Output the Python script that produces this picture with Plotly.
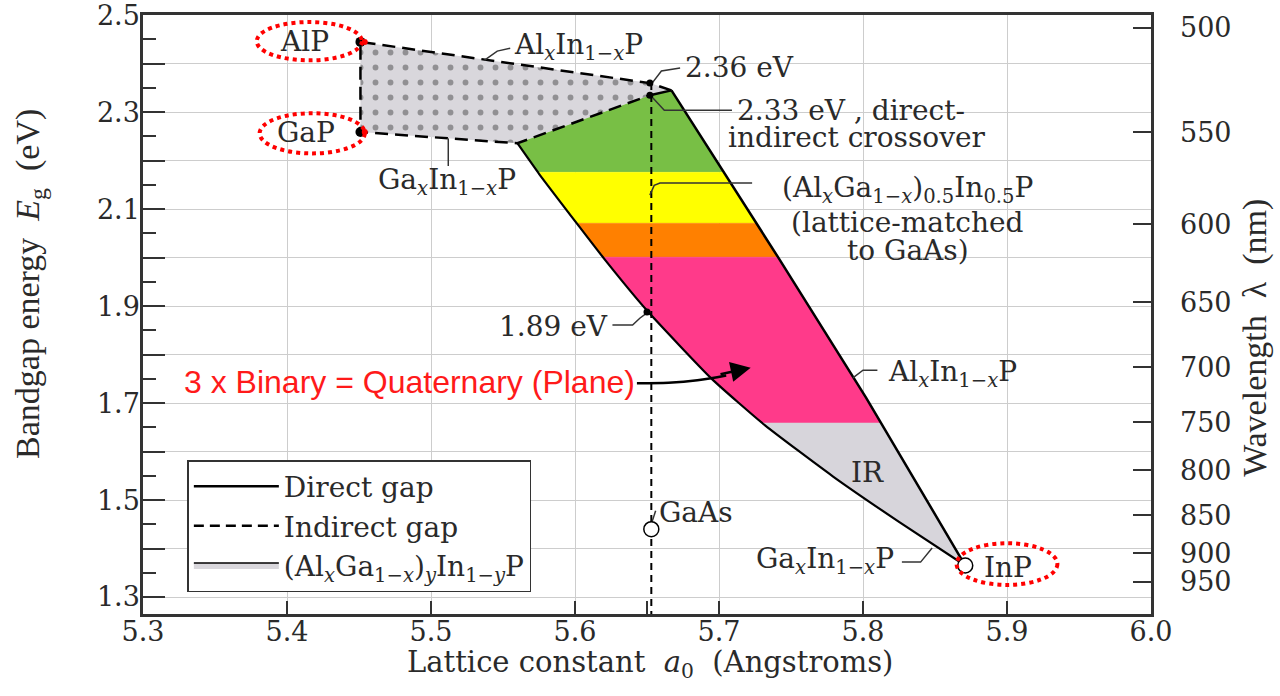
import numpy as np
import plotly.graph_objects as go

# ---------------- data (lattice constant in Angstrom, bandgap in eV) ----------------
ALP = (5.451, 2.445)
GAP = (5.451, 2.259)
INP = (5.871, 1.365)
GAAS = (5.653, 1.440)
E_236 = (5.652, 2.360)
E_233 = (5.652, 2.335)
E_189 = (5.650, 1.888)

# AlInP indirect (dashed, from AlP to the kink)
ALINP_IND_X = [5.451, 5.652, 5.667]
ALINP_IND_Y = [2.445, 2.360, 2.345]
# AlInP direct (solid, kink -> InP)
ALINP_DIR_X = [5.667, 5.741, 5.802, 5.871]
ALINP_DIR_Y = [2.345, 2.001, 1.712, 1.365]
# GaInP direct (solid, crossover -> InP)
GAINP_DIR_X = [5.560, 5.575, 5.603, 5.621, 5.650, 5.695, 5.732, 5.779, 5.825, 5.871]
GAINP_DIR_Y = [2.236, 2.173, 2.064, 1.995, 1.891, 1.750, 1.654, 1.549, 1.455, 1.365]
# GaInP indirect (dashed, GaP -> crossover)
GAINP_IND_X = [5.451, 5.560]
GAINP_IND_Y = [2.259, 2.236]
# quaternary direct/indirect boundary (crossover -> 2.33 eV -> kink)
QUAT_EDGE_X = [5.560, 5.652, 5.667]
QUAT_EDGE_Y = [2.236, 2.335, 2.345]

# colour bands (lower edges, eV) and colours
BAND_LOWER = [2.176, 2.071, 2.001, 1.659, 1.365]
BAND_COLORS = ["#78bf45", "#ffff00", "#ff8000", "#ff3a8a", "#d7d5db"]

# right axis: wavelength tick labels and their positions on the eV scale
WL_LABELS = [500, 550, 600, 650, 700, 750, 800, 850, 900, 950]
WL_POS_EV = [2.474, 2.259, 2.069, 1.908, 1.774, 1.660, 1.561, 1.469, 1.390, 1.331]

X_TICKS = [5.3, 5.4, 5.5, 5.6, 5.7, 5.8, 5.9, 6.0]
Y_TICKS = [1.3, 1.4, 1.5, 1.6, 1.7, 1.8, 1.9, 2.0, 2.1, 2.2, 2.3, 2.4, 2.5]
Y_MINOR = [1.35, 1.45, 1.55, 1.65, 1.75, 1.85, 1.95, 2.05, 2.15, 2.25, 2.35, 2.45]
X_RANGE = [5.3, 6.0]
Y_RANGE = [1.265, 2.5005]

SERIF = "DejaVu Serif"
FS = 28
TFS = 27
TXT = "#2a2a2a"

lx, ly = np.array(GAINP_DIR_X), np.array(GAINP_DIR_Y)
rx, ry = np.array(ALINP_DIR_X), np.array(ALINP_DIR_Y)


def at(xs, ys, y):
    return float(np.interp(y, ys[::-1], xs[::-1]))


def band_polygon(lo, hi):
    px, py = [at(lx, ly, lo)], [lo]
    h = ly.max() if hi is None else hi
    for x, y in zip(lx[::-1], ly[::-1]):
        if lo < y < h:
            px.append(x); py.append(y)
    px.append(at(lx, ly, h)); py.append(h)
    if hi is None:
        for x, y in zip(QUAT_EDGE_X[1:], QUAT_EDGE_Y[1:]):
            px.append(x); py.append(y)
        rtop = ry.max()
    else:
        px.append(at(rx, ry, hi)); py.append(hi)
        rtop = hi
    for x, y in zip(rx, ry):
        if lo < y < rtop:
            px.append(x); py.append(y)
    px.append(at(rx, ry, lo)); py.append(lo)
    return px, py


fig = go.Figure()
NOLEG = dict(showlegend=False, hoverinfo="skip")

# colour bands
uppers = [None] + BAND_LOWER[:-1]
for lo, hi, col in zip(BAND_LOWER, uppers, BAND_COLORS):
    bx, by = band_polygon(lo, hi)
    fig.add_trace(go.Scatter(x=bx, y=by, fill="toself", fillcolor=col, mode="lines",
                             line=dict(width=0.5, color=col), **NOLEG))

# indirect (dotted grey) region
gx = ALINP_IND_X + QUAT_EDGE_X[::-1][1:] + GAINP_IND_X[::-1]
gy = ALINP_IND_Y + QUAT_EDGE_Y[::-1][1:] + GAINP_IND_Y[::-1]
fig.add_trace(go.Scatter(x=gx, y=gy, fill="toself", fillcolor="#d9d7dc", mode="lines",
                         line=dict(width=0, color="#d9d7dc"),
                         fillpattern=dict(shape=".", bgcolor="#d9d7dc", fgcolor="#4a4a4a",
                                          size=15, solidity=0.12),
                         **NOLEG))

# vertical lattice-matched line (GaAs)
fig.add_trace(go.Scatter(x=[GAAS[0], GAAS[0]], y=[E_236[1], Y_RANGE[0]], mode="lines",
                         line=dict(color="black", width=2, dash="7px,5px"), **NOLEG))

# dashed indirect boundaries
dash_x = ALINP_IND_X[::-1] + [GAP[0]] + GAINP_IND_X[1:] + QUAT_EDGE_X[1:2]
dash_y = ALINP_IND_Y[::-1] + [GAP[1]] + GAINP_IND_Y[1:] + QUAT_EDGE_Y[1:2]
fig.add_trace(go.Scatter(x=dash_x, y=dash_y, mode="lines",
                         line=dict(color="black", width=2.5, dash="13px,7px"), **NOLEG))

# solid direct boundaries
fig.add_trace(go.Scatter(x=ALINP_DIR_X, y=ALINP_DIR_Y, mode="lines",
                         line=dict(color="black", width=2.5), **NOLEG))
fig.add_trace(go.Scatter(x=GAINP_DIR_X, y=GAINP_DIR_Y, mode="lines",
                         line=dict(color="black", width=2.2, shape="spline", smoothing=0.5), **NOLEG))
fig.add_trace(go.Scatter(x=QUAT_EDGE_X[1:], y=QUAT_EDGE_Y[1:], mode="lines",
                         line=dict(color="black", width=2.5), **NOLEG))

# leader lines (annotation geometry)
LEADERS = [
    ([5.537, 5.546, 5.555], [2.407, 2.426, 2.432]),
    ([5.653, 5.660, 5.673], [2.358, 2.385, 2.391]),
    ([5.653, 5.662, 5.709], [2.333, 2.304, 2.304]),
    ([5.652, 5.655, 5.659, 5.723], [2.129, 2.149, 2.154, 2.154]),
    ([5.626, 5.640, 5.645, 5.650], [1.861, 1.861, 1.875, 1.886]),
    ([5.512, 5.512], [2.246, 2.189]),
    ([5.793, 5.800, 5.810], [1.752, 1.768, 1.768]),
    ([5.827, 5.840, 5.848], [1.372, 1.372, 1.401]),
    ([5.6535, 5.656], [1.455, 1.478]),
]
for xs, ys in LEADERS:
    fig.add_trace(go.Scatter(x=xs, y=ys, mode="lines", line=dict(color="#333333", width=1.5), **NOLEG))

# curved arrow from red text
fig.add_trace(go.Scatter(x=[5.643, 5.665, 5.685, 5.705], y=[1.741, 1.742, 1.747, 1.757], mode="lines",
                         line=dict(color="black", width=2.5, shape="spline"), **NOLEG))

# points
fig.add_trace(go.Scatter(x=[ALP[0], GAP[0]], y=[ALP[1], GAP[1]], mode="markers",
                         marker=dict(color="black", size=10), **NOLEG))
fig.add_trace(go.Scatter(x=[ALP[0] + 0.003, GAP[0] + 0.003], y=[ALP[1], GAP[1]], mode="markers",
                         marker=dict(color="red", size=6), **NOLEG))
fig.add_trace(go.Scatter(x=[E_236[0], E_233[0], E_189[0]], y=[E_236[1], E_233[1], E_189[1]],
                         mode="markers", marker=dict(color="black", size=7), **NOLEG))
fig.add_trace(go.Scatter(x=[GAAS[0], INP[0]], y=[GAAS[1], INP[1]], mode="markers",
                         marker=dict(color="white", size=15, line=dict(color="black", width=1.5)), **NOLEG))

# dummy trace for right axis
fig.add_trace(go.Scatter(x=[None], y=[None], yaxis="y2", **NOLEG))

# legend entries
fig.add_trace(go.Scatter(x=[None], y=[None], mode="lines", name="Direct gap",
                         line=dict(color="black", width=2.5)))
fig.add_trace(go.Scatter(x=[None], y=[None], mode="lines", name="Indirect gap",
                         line=dict(color="black", width=2.5, dash="10px,6px")))
fig.add_trace(go.Scatter(x=[None], y=[None], mode="lines", fill="toself", fillcolor="#d9d7dc",
                         line=dict(color="black", width=1.5),
                         name="(Al<sub><i>x</i></sub>Ga<sub>1\u2212<i>x</i></sub>)<sub><i>y</i></sub>In<sub>1\u2212<i>y</i></sub>P"))

# red dotted ellipses
ELLIPSES = [(5.379, 5.452, 2.407, 2.486), (5.381, 5.454, 2.215, 2.298), (5.865, 5.935, 1.325, 1.411)]
shapes = []
for x0, x1, y0, y1 in ELLIPSES:
    shapes.append(dict(type="circle", xref="x", yref="y", x0=x0, x1=x1, y0=y0, y1=y1,
                       line=dict(color="red", width=4, dash="dot")))

f = dict(family=SERIF, size=FS, color=TXT)
ann = [
    dict(x=5.412, y=2.446, text="AlP", xanchor="center"),
    dict(x=5.413, y=2.258, text="GaP", xanchor="center"),
    dict(x=5.901, y=1.360, text="InP", xanchor="center"),
    dict(x=5.556, y=2.436, text="Al<sub><i>x</i></sub>In<sub>1\u2212<i>x</i></sub>P", xanchor="left"),
    dict(x=5.675, y=2.393, text="2.36 eV", xanchor="left"),
    dict(x=5.711, y=2.304, text="2.33 eV , direct-", xanchor="left"),
    dict(x=5.705, y=2.247, text="indirect crossover", xanchor="left"),
    dict(x=5.831, y=2.140, text="(Al<sub><i>x</i></sub>Ga<sub>1\u2212<i>x</i></sub>)<sub>0.5</sub>In<sub>0.5</sub>P", xanchor="center"),
    dict(x=5.831, y=2.073, text="(lattice-matched", xanchor="center"),
    dict(x=5.831, y=2.015, text="to GaAs)", xanchor="center"),
    dict(x=5.624, y=1.859, text="1.89 eV", xanchor="right"),
    dict(x=5.511, y=2.158, text="Ga<sub><i>x</i></sub>In<sub>1\u2212<i>x</i></sub>P", xanchor="center"),
    dict(x=5.816, y=1.762, text="Al<sub><i>x</i></sub>In<sub>1\u2212<i>x</i></sub>P", xanchor="left"),
    dict(x=5.823, y=1.376, text="Ga<sub><i>x</i></sub>In<sub>1\u2212<i>x</i></sub>P", xanchor="right"),
    dict(x=5.657, y=1.475, text="GaAs", xanchor="left"),
    dict(x=5.803, y=1.556, text="IR", xanchor="center"),
]
annotations = []
for a in ann:
    a.update(xref="x", yref="y", showarrow=False, font=f, yanchor="middle")
    annotations.append(a)
annotations.append(dict(x=5.485, y=1.743, xref="x", yref="y", showarrow=False,
                        text="3 x Binary = Quaternary (Plane)", xanchor="center", yanchor="middle",
                        font=dict(family="Liberation Sans", size=32, color="#ff1a1a")))
annotations.append(dict(x=5.722, y=1.773, ax=5.700, ay=1.759, xref="x", yref="y", axref="x", ayref="y",
                        text="", showarrow=True, arrowhead=2, arrowsize=1.6, arrowwidth=2.5,
                        arrowcolor="black"))
# axis titles
annotations += [
    dict(xref="paper", yref="paper", x=0, y=0.551, xshift=-113, textangle=-90, showarrow=False,
         text="Bandgap energy  <i>E</i><sub>g</sub>  (eV)", xanchor="center", yanchor="middle",
         font=dict(family="Liberation Serif", size=34, color=TXT)),
    dict(xref="paper", yref="paper", x=1, y=0.461, xshift=104, textangle=-90, showarrow=False,
         text="Wavelength  \u03bb  (nm)", xanchor="center", yanchor="middle",
         font=dict(family="Liberation Serif", size=34, color=TXT)),
    dict(xref="paper", yref="paper", x=0.503, y=0, yshift=-50, showarrow=False,
         text="Lattice constant  <i>a</i><sub>0</sub>  (Angstroms)", xanchor="center", yanchor="middle",
         font=dict(family=SERIF, size=29, color=TXT)),
]

fig.update_layout(
    width=1280, height=696,
    margin=dict(l=143, r=129, t=15, b=82),
    paper_bgcolor="white", plot_bgcolor="white",
    shapes=shapes, annotations=annotations,
    font=dict(family=SERIF, size=FS, color=TXT),
    legend=dict(x=0.044, y=0.257, xanchor="left", yanchor="top", bgcolor="white",
                bordercolor="#333333", borderwidth=1.5, font=dict(family=SERIF, size=FS, color=TXT),
                itemwidth=85, tracegroupgap=0),
    xaxis=dict(range=X_RANGE, tickmode="array", tickvals=X_TICKS, ticktext=[f"{v:.1f}" for v in X_TICKS],
               ticks="inside", ticklen=13, tickwidth=2, tickcolor="#333", automargin=False,
               ticklabelstandoff=-8, ticklabeloverflow="allow",
               showgrid=True, gridcolor="#cdcdcd", gridwidth=1, zeroline=False,
               showline=True, linewidth=2.5, linecolor="#333", mirror=True,
               tickfont=dict(family=SERIF, size=TFS, color=TXT),
               minor=dict(tickmode="array", tickvals=[5.65], ticks="inside", ticklen=13, tickwidth=2,
                          tickcolor="#333", showgrid=False)),
    yaxis=dict(range=Y_RANGE, tickmode="array", tickvals=Y_TICKS, automargin=False,
               ticktext=[f"{v:.1f}" if round(v * 10) % 2 == 1 else "" for v in Y_TICKS],
               ticks="inside", ticklen=22, tickwidth=2, tickcolor="#333", ticklabelstandoff=-5,
               ticklabeloverflow="allow",
               showgrid=True, gridcolor="#cdcdcd", gridwidth=1, zeroline=False,
               showline=True, linewidth=2.5, linecolor="#333", mirror=True,
               tickfont=dict(family=SERIF, size=TFS, color=TXT),
               minor=dict(tickmode="array", tickvals=Y_MINOR, ticks="inside", ticklen=13, tickwidth=2,
                          tickcolor="#333", showgrid=False)),
    yaxis2=dict(range=Y_RANGE, overlaying="y", side="right", tickmode="array", tickvals=WL_POS_EV,
                ticktext=[str(v) for v in WL_LABELS], ticks="inside", ticklen=18, tickwidth=2,
                tickcolor="#333", showgrid=False, zeroline=False, showline=False, automargin=False,
                ticklabelstandoff=28, ticklabeloverflow="allow",
                tickfont=dict(family=SERIF, size=TFS, color=TXT)),
)

fig.write_html("out.html", config={"displayModeBar": False},
               post_script="document.body.style.margin='0';document.body.style.overflow='hidden';")
